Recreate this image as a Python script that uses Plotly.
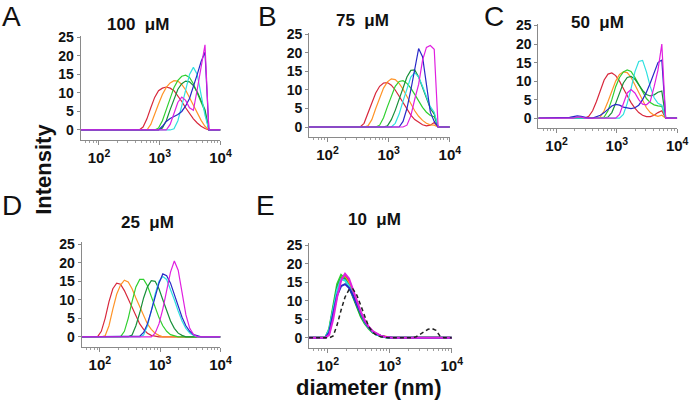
import plotly.graph_objects as go

# Size bins (nm)
DIAM = [50, 58.77, 68.06, 78.82, 91.28, 105.7, 122.4, 141.8, 164.2, 190.1, 220.2, 255.0,
        295.3, 342.0, 396.1, 458.7, 531.2, 615.1, 712.4, 825.0, 955.4, 1106, 1281, 1484,
        1718, 1990, 2305, 2669, 3091, 3580, 4145, 4801, 5560, 6439, 7456, 8635, 10000]

SERIES = ["red", "orange", "green", "dkgreen", "cyan", "blue", "magenta"]
COLORS = {"red": "#D8283C", "orange": "#FF9428", "green": "#30D030", "dkgreen": "#18903A",
          "cyan": "#30E0E0", "blue": "#2828C8", "magenta": "#E020E0", "black": "#222222"}

# Panel A: 100 uM
A_red = [0,0,0,0,0,0,0,0,0,0,0,0,0,0,0,0,0.8,3,6,8.8,10.6,11.3,11.6,11.3,10.6,9.3,7.7,6.0,4.4,3.0,1.9,1.0,0.4,0,0,0,0]
A_orange = [0,0,0,0,0,0,0,0,0,0,0,0,0,0,0,0,0,0,1.5,4,7,9.6,11.5,12.7,13.3,13.2,12.3,10.8,8.8,6.6,4.5,2.6,1.0,0,0,0,0]
A_green = [0,0,0,0,0,0,0,0,0,0,0,0,0,0,0,0,0,0,0,0,0.5,2.5,5.5,8.8,11.5,13.4,14.5,14.8,14.2,12.5,10,7.5,5,0,0,0,0]
A_dkgreen = [0,0,0,0,0,0,0,0,0,0,0,0,0,0,0,0,0,0,0,0,0,0.5,2.5,5.5,8.5,11,12.5,13.2,13,12,10.3,8,5.5,0,0,0,0]
A_cyan = [0,0,0,0,0,0,0,0,0,0,0,0,0,0,0,0,0,0,0,0,0,0,0,0,0.3,2.5,6.5,10.5,15,16.9,15,9.5,4,0,0,0,0]
A_blue = [0,0,0,0,0,0,0,0,0,0,0,0,0,0,0,0,0,0,0,0,0,1,2.3,3.1,3.6,4.2,5,6.5,8.5,11.5,15,18.5,21,0,0,0,0]
A_magenta = [0,0,0,0,0,0,0,0,0,0,0,0,0,0,0,0,0,0,0,0,0,0,0,1.5,4.5,7.5,8.9,8,6,5.3,11,16.5,23,0,0,0,0]

# Panel B: 75 uM
B_red = [0,0,0,0,0,0,0,0,0,0,0,0,0,0,1,3.5,6.5,9.2,11,11.9,12,11.3,10,8.3,6.5,4.7,3.2,2,1.2,0.6,0.3,0.5,1.2,0,0,0,0]
B_orange = [0,0,0,0,0,0,0,0,0,0,0,0,0,0,0,0.3,2,5,8,10.5,12.2,13,12.8,11.8,10.2,8.2,6.2,4.4,2.9,1.8,1,0.6,0.5,0,0,0,0]
B_green = [0,0,0,0,0,0,0,0,0,0,0,0,0,0,0,0,0,0,0.5,2.5,5.5,8.5,11,12.3,12.5,11.8,10.5,8.8,7,5.3,4,3.1,2.8,0,0,0,0]
B_dkgreen = [0,0,0,0,0,0,0,0,0,0,0,0,0,0,0,0,0,0,0,0,0.3,2,4.5,7.5,10.5,13.5,15.3,15.4,13.5,10.5,7.5,5,3.5,0,0,0,0]
B_cyan = [0,0,0,0,0,0,0,0,0,0,0,0,0,0,0,0,0,0,0,0,0,0,1,3.5,7,10.5,13.5,14.7,13.5,11,8,5.5,4,0,0,0,0]
B_blue = [0,0,0,0,0,0,0,0,0,0,0,0,0,0,0,0,0,0,0,0,0,0,0,0,1.5,5,10,16,21.2,19,11,4,1.5,0,0,0,0]
B_magenta = [0,0,0,0,0,0,0,0,0,0,0,0,0,0,0,0,0,0,0,0,0,0,0,0,0,0.5,3,7.5,11.5,18,21.5,22,21,0,0,0,0]

# Panel C: 50 uM
C_red = [0,0,0,0,0,0,0,0,0,0,0,0,0,0.5,2,4.5,7.5,10.3,11.9,12.2,11.5,10,8,6,4.2,2.7,1.5,0.8,0.4,0.4,0.8,1.5,2,0,0,0,0]
C_orange = [0,0,0,0,0,0,0,0,0,0,0,0,0,0,0,0,0.3,2,4.5,7.5,10,11.8,12.5,12.3,11,9,6.8,4.6,2.8,1.5,0.8,0.5,0.8,0,0,0,0]
C_green = [0,0,0,0,0,0,0,0,0,0,0,0,0,0,0,0,0,0.3,2,5,8.5,11,12.5,13,12.6,11,9,7,5.3,4.2,3.6,3.3,3.2,0,0,0,0]
C_dkgreen = [0,0,0,0,0,0,0,0,0,0,0,0,0,0,0,0,0,0,0.3,1.5,4,7,9.5,11,11.3,10.5,9,7.5,6.4,6,6.3,7,7.3,0,0,0,0]
C_cyan = [0,0,0,0,0,0,0,0,0,0,0,0,0,0,0,0,0,0,0,0,0,0,1,4,8,12.5,15.3,15.6,12.5,8.5,5.5,4,3.5,0,0,0,0]
C_blue = [0,0,0,0,0,0,0,0,0.2,0.4,0.6,0.5,0.2,0,0,0.3,0.8,1.5,2.5,3.3,3.7,3.5,3,2.7,2.6,2.8,3.5,5,7,9.5,12.5,15,15.7,0,0,0,0]
C_magenta = [0,0,0,0,0,0,0,0,0,0,0.3,0.3,0,0,0,0,0,0,0,0,0,1,4,6.8,7.7,6.8,5,3.8,3.6,4.5,8.5,13,20,0,0,0,0]

# Panel D: 25 uM
D_red = [0,0,0,0,0,1.5,5,9.5,13,14.5,14.2,12.5,10.2,7.8,5.5,3.5,2,1,0.4,0.1,0,0,0,0,0,0,0,0,0,0,0,0,0,0,0,0,0]
D_orange = [0,0,0,0,0,0,0.3,3,7.5,11.5,14,15.3,14.8,13,10.5,8,5.5,3.5,2,1,0.4,0,0,0,0,0,0,0,0,0,0,0,0,0,0,0,0]
D_green = [0,0,0,0,0,0,0,0,0,0,0,1.5,5,9.5,13.5,15.5,15.5,13.8,11,8,5.2,3,1.5,0.6,0.2,0,0,0,0,0,0,0,0,0,0,0,0]
D_dkgreen = [0,0,0,0,0,0,0,0,0,0,0,0,0,0.5,3,6.5,10.5,13.5,15.2,15,13,10,7,4.3,2.3,1,0.4,0,0,0,0,0,0,0,0,0,0]
D_cyan = [0,0,0,0,0,0,0,0,0,0,0,0,0,0,0,0,0.5,3,7,11.5,15,16.3,15.5,13,10,7,4.3,2.3,1,0.4,0,0,0,0,0,0,0]
D_blue = [0,0,0,0,0,0,0,0,0,0,0,0,0,0,0,0.2,1.2,3.5,7,11,14.5,17,16.5,14.5,11.5,8.3,5.3,3,1.5,0.6,0.2,0,0,0,0,0,0]
D_magenta = [0,0,0,0,0,0,0,0,0,0,0,0,0,0,0,0,0,0,0,1,3.5,7.5,12.5,17.5,20.5,18,12,6,2.3,0.6,0,0,0,0,0,0,0]

# Panel E: 10 uM
E_red = [0,0,0,0,0,1.5,6.5,12,16,17,15.3,12.3,9.2,6.5,4.3,2.8,1.7,1,0.6,0.3,0.1,0,0,0,0,0,0,0,0,0,0,0,0,0,0,0,0]
E_orange = [0,0,0,0,0,1.8,7,12.5,16,16.3,14.8,12,9,6.3,4.2,2.7,1.6,0.9,0.5,0.3,0.1,0,0,0,0,0,0,0,0,0,0,0,0,0,0,0,0]
E_green = [0,0,0,0,0,2.5,9,14.5,17,16,13.8,11,8.2,5.7,3.8,2.4,1.4,0.8,0.4,0.2,0,0,0,0,0,0,0,0,0,0,0,0,0,0,0,0,0]
E_dkgreen = [0,0,0,0,0,2,8,13.5,16,15.8,14,11.3,8.5,6,4,2.6,1.5,0.9,0.5,0.2,0,0,0,0,0,0,0,0,0,0,0,0,0,0,0,0,0]
E_cyan = [0,0,0,0,0,2.2,8,13,15.8,15.5,14,11.5,8.8,6.2,4.2,2.7,1.6,0.9,0.5,0.2,0,0,0,0,0,0,0,0,0,0,0,0,0,0,0,0,0]
E_blue = [0,0,0,0,0,1.5,6.5,11.5,14,14.5,13.5,11.5,9,6.5,4.4,2.8,1.7,1,0.5,0.3,0.1,0,0,0,0,0,0,0,0,0,0,0,0,0,0,0,0]
E_magenta = [0,0,0,0,0,0.8,5,11,15.5,17.3,16,13,9.8,7,4.7,3,1.8,1.1,0.6,0.3,0.1,0,0,0,0,0,0,0,0,0,0,0,0,0,0,0,0]
E_black = [0,0,0,0,0,0,0.5,3.5,7.5,11,13,13.2,11.5,8.5,5.5,3,1.5,0.7,0.3,0.1,0,0,0,0,0,0,0,0.3,1,1.8,2.3,2.5,2,0.5,0,0,0]

PANELS = [
    ("A", "100\u00a0\u00a0\u03bcM", [A_red, A_orange, A_green, A_dkgreen, A_cyan, A_blue, A_magenta]),
    ("B", "75\u00a0\u00a0\u03bcM", [B_red, B_orange, B_green, B_dkgreen, B_cyan, B_blue, B_magenta]),
    ("C", "50\u00a0\u00a0\u03bcM", [C_red, C_orange, C_green, C_dkgreen, C_cyan, C_blue, C_magenta]),
    ("D", "25\u00a0\u00a0\u03bcM", [D_red, D_orange, D_green, D_dkgreen, D_cyan, D_blue, D_magenta]),
    ("E", "10\u00a0\u00a0\u03bcM", [E_red, E_orange, E_green, E_dkgreen, E_cyan, E_blue, E_magenta]),
]
X_TICKVALS = [100, 1000, 10000]
X_TICKTEXT = ["10<sup>2</sup>", "10<sup>3</sup>", "10<sup>4</sup>"]
X_MINOR = [60, 70, 80, 90, 200, 300, 400, 500, 600, 700, 800, 900,
           2000, 3000, 4000, 5000, 6000, 7000, 8000, 9000]
Y_TICKVALS = [0, 5, 10, 15, 20, 25]

W, H = 700, 403
# pixel boxes: (left, right, top, bottom) of each plot area
BOXES = [(82, 224, 30, 136), (314, 457, 27, 133), (547, 688, 18, 124),
         (83, 224, 240, 346), (314, 459, 241, 347)]
# letter and title positions (px)
LETTERS = [(12, 11), (272, 11), (502, 11), (12, 203), (270, 203)]
TITLES = [(140, 19), (368, 15), (607, 17), (150, 220), (380, 217)]

FONT = "Liberation Sans, Arial, sans-serif"
fig = go.Figure()
annotations = []
for i, (letter, title, curves) in enumerate(PANELS):
    sfx = "" if i == 0 else str(i + 1)
    xa, ya = "x" + sfx, "y" + sfx
    lw = 2.0 if letter == "E" else 1.2
    for name, ys in zip(SERIES, curves):
        fig.add_trace(go.Scatter(x=DIAM, y=ys, mode="lines", xaxis=xa, yaxis=ya,
                                 line=dict(color=COLORS[name], width=lw), showlegend=False,
                                 hoverinfo="skip"))
    if letter == "E":
        fig.add_trace(go.Scatter(x=DIAM, y=E_black, mode="lines", xaxis=xa, yaxis=ya,
                                 line=dict(color=COLORS["black"], width=1.5, dash="4px,3px"),
                                 showlegend=False, hoverinfo="skip"))
    l, r, t, b = BOXES[i]
    fig.update_layout(**{
        "xaxis" + sfx: dict(type="log", range=[1.699, 4.0], domain=[l / W, r / W],
                            anchor=ya, showline=True, linecolor="#8a8a8a", linewidth=1,
                            ticks="outside", ticklen=4, tickcolor="#8a8a8a",
                            tickvals=X_TICKVALS, ticktext=X_TICKTEXT, showgrid=False,
                            zeroline=False,
                            minor=dict(ticks="outside", ticklen=2, tickcolor="#a0a0a0",
                                       tickmode="array", tickvals=X_MINOR, showgrid=False),
                            tickfont=dict(family=FONT, size=15, color="#111", weight="bold")),
        "yaxis" + sfx: dict(range=[-2.7, 25.5], domain=[1 - b / H, 1 - t / H],
                            anchor=xa, showline=True, linecolor="#8a8a8a", linewidth=1,
                            ticks="outside", ticklen=3, tickcolor="#8a8a8a",
                            tickvals=Y_TICKVALS, showgrid=False, zeroline=False,
                            tickfont=dict(family=FONT, size=14, color="#111", weight="bold")),
    })
    lx, ly = LETTERS[i]
    annotations.append(dict(text=letter, x=lx / W, y=1 - ly / H, xref="paper", yref="paper",
                            showarrow=False, xanchor="center", yanchor="middle",
                            font=dict(family=FONT, size=28, color="#111")))
    tx, ty = TITLES[i]
    annotations.append(dict(text=title, x=tx / W, y=1 - ty / H, xref="paper", yref="paper",
                            showarrow=False, xanchor="center", yanchor="middle",
                            font=dict(family=FONT, size=17, color="#111", weight="bold")))

annotations.append(dict(text="Intensity", x=44 / W, y=1 - 166 / H, xref="paper", yref="paper",
                        showarrow=False, textangle=-90, xanchor="center", yanchor="middle",
                        font=dict(family=FONT, size=22, color="#111", weight="bold")))
annotations.append(dict(text="diameter (nm)", x=374 / W, y=1 - 387 / H, xref="paper",
                        yref="paper", showarrow=False, xanchor="center", yanchor="middle",
                        font=dict(family=FONT, size=22, color="#111", weight="bold")))

fig.update_layout(width=W, height=H, margin=dict(l=0, r=0, t=0, b=0),
                  paper_bgcolor="white", plot_bgcolor="white", annotations=annotations)
fig.write_html("out.html", config={"displayModeBar": False},
               post_script="document.body.style.margin='0';document.body.style.overflow='hidden';")
